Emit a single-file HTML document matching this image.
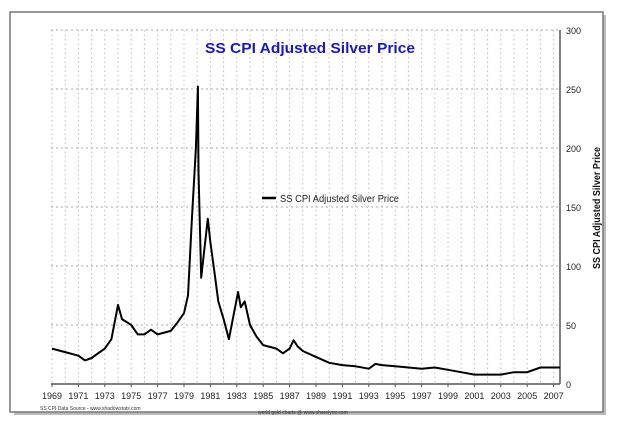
<!DOCTYPE html>
<html><head><meta charset="utf-8"><style>
body{margin:0;background:#fff;width:620px;height:431px;overflow:hidden;font-family:"Liberation Sans",sans-serif}
</style></head><body>
<svg width="620" height="431">
<rect x="14" y="15" width="592" height="400" fill="#bbb"/>
<rect x="10" y="12" width="593" height="400" fill="#fff" stroke="#777" stroke-width="1.5"/>
<g id="grid"></g>
<g id="axes"></g>
<path id="line" fill="none" stroke="#000" stroke-width="2" stroke-linejoin="round"/>
<text x="205" y="53" textLength="210" lengthAdjust="spacingAndGlyphs" font-size="15" font-weight="bold" fill="#1a1ab8">SS CPI Adjusted Silver Price</text>
<line x1="262" y1="198" x2="276" y2="198" stroke="#000" stroke-width="2.5"/>
<text x="280" y="202" textLength="119" lengthAdjust="spacingAndGlyphs" font-size="10" fill="#222">SS CPI Adjusted Silver Price</text>
<text transform="translate(600,208) rotate(-90)" text-anchor="middle" textLength="122" lengthAdjust="spacingAndGlyphs" font-size="10" font-weight="bold" fill="#111">SS CPI Adjusted Silver Price</text>
<text x="40" y="410" font-size="5" fill="#333">SS CPI Data Source - www.shadowstats.com</text>
<text x="258" y="414" font-size="5" fill="#333">world gold charts @ www.sharelynx.com</text>
</svg>
<script>
const years=[1969,1970,1971,1971.5,1972,1973,1973.5,1974,1974.3,1975,1975.5,1976,1976.5,1977,1978,1978.5,1979,1979.3,1979.6,1979.9,1980.05,1980.1,1980.3,1980.5,1980.8,1981,1981.3,1981.6,1982,1982.4,1982.7,1983.1,1983.3,1983.6,1984,1984.5,1985,1986,1986.5,1987,1987.3,1987.6,1988,1989,1990,1991,1992,1993,1993.5,1994,1995,1996,1997,1998,1999,2000,2001,2002,2003,2004,2005,2006,2007,2007.5];
const prices=[30,27,24,20,22,30,38,67,55,50,42,42,46,42,45,52,60,75,140,200,252,180,90,110,140,120,95,70,55,38,55,78,65,70,50,40,33,30,26,30,37,32,28,23,18,16,15,13,17,16,15,14,13,14,12,10,8,8,8,10,10,14,14,14];
const yTicks=[0,50,100,150,200,250,300];
const xTickLabels=[1969,1971,1973,1975,1977,1979,1981,1983,1985,1987,1989,1991,1993,1995,1997,1999,2001,2003,2005,2007];
const NS='http://www.w3.org/2000/svg';
const X=y=>52+(y-1969)*13.2, Y=v=>384-v*(354/300);
const L=51,R=560,T=30,B=384;
function mk(t,a,p,txt){const e=document.createElementNS(NS,t);for(const k in a)e.setAttribute(k,a[k]);if(txt!=null)e.textContent=txt;p.appendChild(e);return e;}
const g=document.getElementById('grid'),ax=document.getElementById('axes');
for(let yr=1969;yr<=2007;yr++){const l=mk('line',{x1:X(yr),x2:X(yr),y1:T,y2:B,stroke:'#bbb','stroke-dasharray':'1.5,3'},g);

}
yTicks.forEach(v=>{if(v>0){const l=mk('line',{x1:L,x2:R,y1:Y(v),y2:Y(v),stroke:'#aaa','stroke-dasharray':'2,3'},g);

}
const t=mk('text',{x:R+6,y:Y(v)+4,'font-size':9,fill:'#222'},ax,v);

});
mk('line',{x1:R,x2:R,y1:T,y2:B,stroke:'#555','stroke-width':1.5},ax);
mk('line',{x1:L,x2:R,y1:B,y2:B,stroke:'#555','stroke-width':1.5},ax);
xTickLabels.forEach(yr=>{const t=mk('text',{x:X(yr),y:B+15,'font-size':9,'text-anchor':'middle',fill:'#222'},ax,yr);


mk('line',{x1:X(yr),x2:X(yr),y1:B,y2:B+3,stroke:'#555'},ax);});
document.getElementById('line').setAttribute('d',years.map((y,i)=>(i?'L':'M')+X(y).toFixed(1)+','+Y(prices[i]).toFixed(1)).join(''));
</script>
</body></html>
